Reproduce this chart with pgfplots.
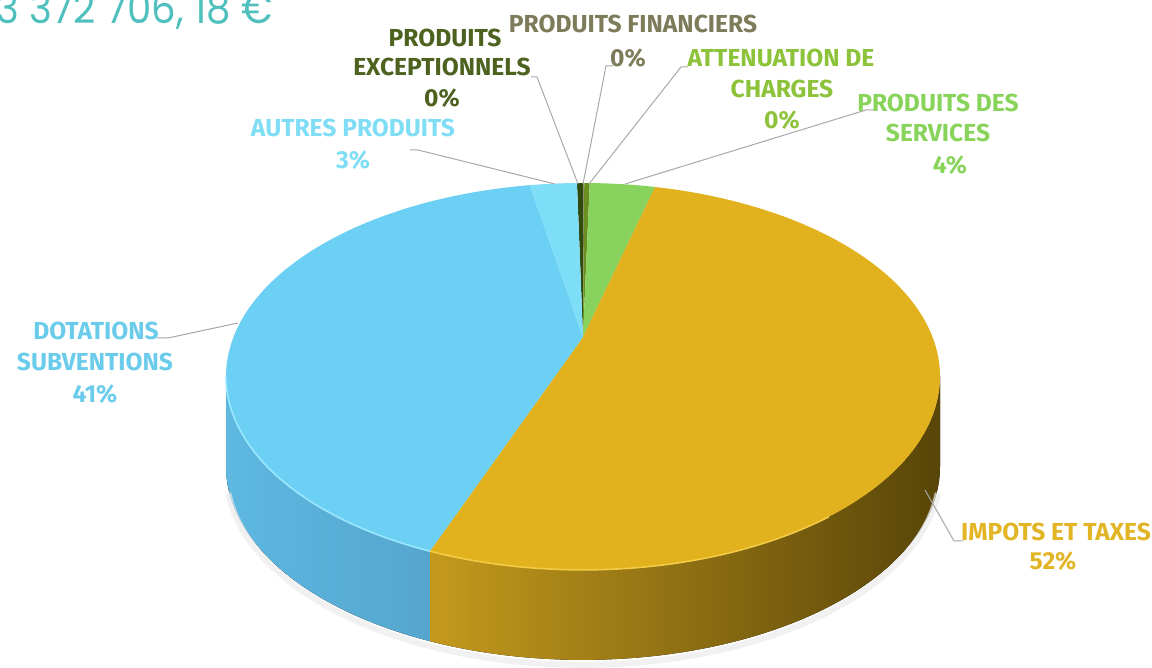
\documentclass[border=0pt]{standalone}
\usepackage{fontspec}
\setmainfont{Fira Sans}
\newfontfamily\titlefont{Poppins}[FakeStretch=0.92]
\usepackage{pgfplots}
\pgfplotsset{compat=1.18}
\usepgfplotslibrary{fillbetween}

\definecolor{cExc}{HTML}{2F4B0D}
\definecolor{cFin}{HTML}{7A7A50}
\definecolor{cAtt}{HTML}{6A8F20}
\definecolor{cSer}{HTML}{88D35E}
\definecolor{cImp}{HTML}{E1B11E}
\definecolor{cDot}{HTML}{6CD0F5}
\definecolor{cAut}{HTML}{7EDDF7}
\definecolor{sImpL}{HTML}{C49A1D}
\definecolor{sImpM}{HTML}{86670F}
\definecolor{sImpR}{HTML}{584508}
\definecolor{sDotL}{HTML}{5EB8E0}
\definecolor{sDotR}{HTML}{55A6CE}
\definecolor{hDot}{HTML}{9AE8FF}
\definecolor{hImp}{HTML}{F3CB45}
\definecolor{shad}{HTML}{EBEBEB}
\definecolor{lFin}{HTML}{7D7B5A}
\definecolor{lExc}{HTML}{4E6220}
\definecolor{lAtt}{HTML}{8DC33A}
\definecolor{lSer}{HTML}{88D45A}
\definecolor{lAut}{HTML}{7FDDF5}
\definecolor{lDot}{HTML}{6BCBEA}
\definecolor{lImp}{HTML}{E2B526}
\definecolor{titlecol}{HTML}{4FC0BD}
\definecolor{leader}{HTML}{A8A8A8}

% slice values (percent), clockwise from the start angle
\pgfmathsetmacro\cA{-0.33}
\pgfmathsetmacro\cB{\cA+0.35}   % produits exceptionnels
\pgfmathsetmacro\cC{\cB+0.05}   % produits financiers
\pgfmathsetmacro\cD{\cC+0.30}   % attenuation de charges
\pgfmathsetmacro\cE{\cD+3.6}    % produits des services
\pgfmathsetmacro\cF{\cE+51.8}   % impots et taxes
\pgfmathsetmacro\cG{\cF+41.3}   % dotations subventions
\pgfmathsetmacro\cH{\cG+2.6}    % autres produits

\newcommand\labfont{\fontsize{12.3}{15}\selectfont\bfseries}
\newcommand\lab[4]{\node[anchor=base, inner sep=0pt, text=#3, font=\labfont] at (#1,#2) {#4};}

\begin{document}
\begin{tikzpicture}
\begin{axis}[width=576pt, height=334pt, scale only axis,
  xmin=0, xmax=1152, ymin=0, ymax=668, y dir=reverse,
  hide axis, clip=false,
  declare function={
    px(\p)=583+349.5*sin(3.6*\p)/(1+0.204*cos(3.6*\p));
    py(\p)=337-185.4*cos(3.6*\p)/(1+0.204*cos(3.6*\p));
  }]

% ---- faint shadow under the pie ----
\addplot[draw=shad, line width=3pt, opacity=0.7, domain=30:70, samples=60] ({px(x)},{py(x)+95});

% ---- side walls ----
\addplot[draw=none, name path=gT, domain=28.27:\cF, samples=100] ({px(x)},{py(x)});
\addplot[draw=none, name path=gB, domain=28.27:\cF, samples=100] ({px(x)},{py(x)+90});
\addplot[left color=sImpL, middle color=sImpM, right color=sImpR, shading angle=90] fill between[of=gT and gB];
\addplot[draw=none, name path=bT, domain=\cF:71.73, samples=60] ({px(x)},{py(x)});
\addplot[draw=none, name path=bB, domain=\cF:71.73, samples=60] ({px(x)},{py(x)+90});
\addplot[left color=sDotL, right color=sDotR] fill between[of=bT and bB];

% ---- top faces ----
\addplot[fill=cExc, draw=none, domain=\cA:\cB, samples=4] ({px(x)},{py(x)}) -- (583,337) -- cycle;
\addplot[fill=cFin, draw=none, domain=\cB:\cC, samples=4] ({px(x)},{py(x)}) -- (583,337) -- cycle;
\addplot[fill=cAtt, draw=none, domain=\cC:\cD, samples=4] ({px(x)},{py(x)}) -- (583,337) -- cycle;
\addplot[fill=cSer, draw=none, domain=\cD:\cE, samples=20] ({px(x)},{py(x)}) -- (583,337) -- cycle;
\addplot[fill=cImp, draw=none, domain=\cE:\cF, samples=160] ({px(x)},{py(x)}) -- (583,337) -- cycle;
\addplot[fill=cDot, draw=none, domain=\cF:\cG, samples=130] ({px(x)},{py(x)}) -- (583,337) -- cycle;
\addplot[fill=cAut, draw=none, domain=\cG:\cH, samples=12] ({px(x)},{py(x)}) -- (583,337) -- cycle;

% rim highlights
\addplot[draw=hDot, line width=0.8pt, domain=\cF:71.73, samples=40] ({px(x)},{py(x)});
\addplot[draw=hImp, line width=0.8pt, domain=40:\cF, samples=40] ({px(x)},{py(x)});

% ---- leader lines ----
\draw[leader, line width=0.5pt] (613,66) -- (606,66) -- (583,184);
\draw[leader, line width=0.5pt] (688,67) -- (681,67) -- (589,184);
\draw[leader, line width=0.5pt] (531,77) -- (537,77) -- (578,184);
\draw[leader, line width=0.5pt] (875,110) -- (866,110) -- (625,184);
\draw[leader, line width=0.5pt] (410,150) -- (418,150) -- (555,184);
\draw[leader, line width=0.5pt] (157,338) -- (168,338) -- (238,323);
\draw[leader, line width=0.5pt] (963,541) -- (954,541) -- (925,490);

% ---- labels ----
\lab{633}{33}{lFin}{PRODUITS FINANCIERS}
\lab{628}{67}{lFin}{0\%}
\lab{445}{47}{lExc}{PRODUITS}
\lab{442}{76}{lExc}{EXCEPTIONNELS}
\lab{442}{107}{lExc}{0\%}
\lab{781}{67}{lAtt}{ATTENUATION DE}
\lab{782}{98}{lAtt}{CHARGES}
\lab{782}{129}{lAtt}{0\%}
\lab{938}{112}{lSer}{PRODUITS DES}
\lab{938}{142}{lSer}{SERVICES}
\lab{950}{174}{lSer}{4\%}
\lab{353}{137}{lAut}{AUTRES PRODUITS}
\lab{353}{169}{lAut}{3\%}
\lab{96}{340}{lDot}{DOTATIONS}
\lab{95}{371}{lDot}{SUBVENTIONS}
\lab{95}{403}{lDot}{41\%}
\lab{1056}{541}{lImp}{IMPOTS ET TAXES}
\lab{1053}{570}{lImp}{52\%}

% ---- title (cut at the top-left edge, as in the reference) ----
\node[anchor=base east, inner sep=0pt, text=titlecol, font=\titlefont\fontsize{21}{21}\selectfont] at (273,24) {3 372 706, 18 €};

\end{axis}
\pgfresetboundingbox
\useasboundingbox (current axis.south west) rectangle (current axis.north east);
\end{tikzpicture}
\end{document}
